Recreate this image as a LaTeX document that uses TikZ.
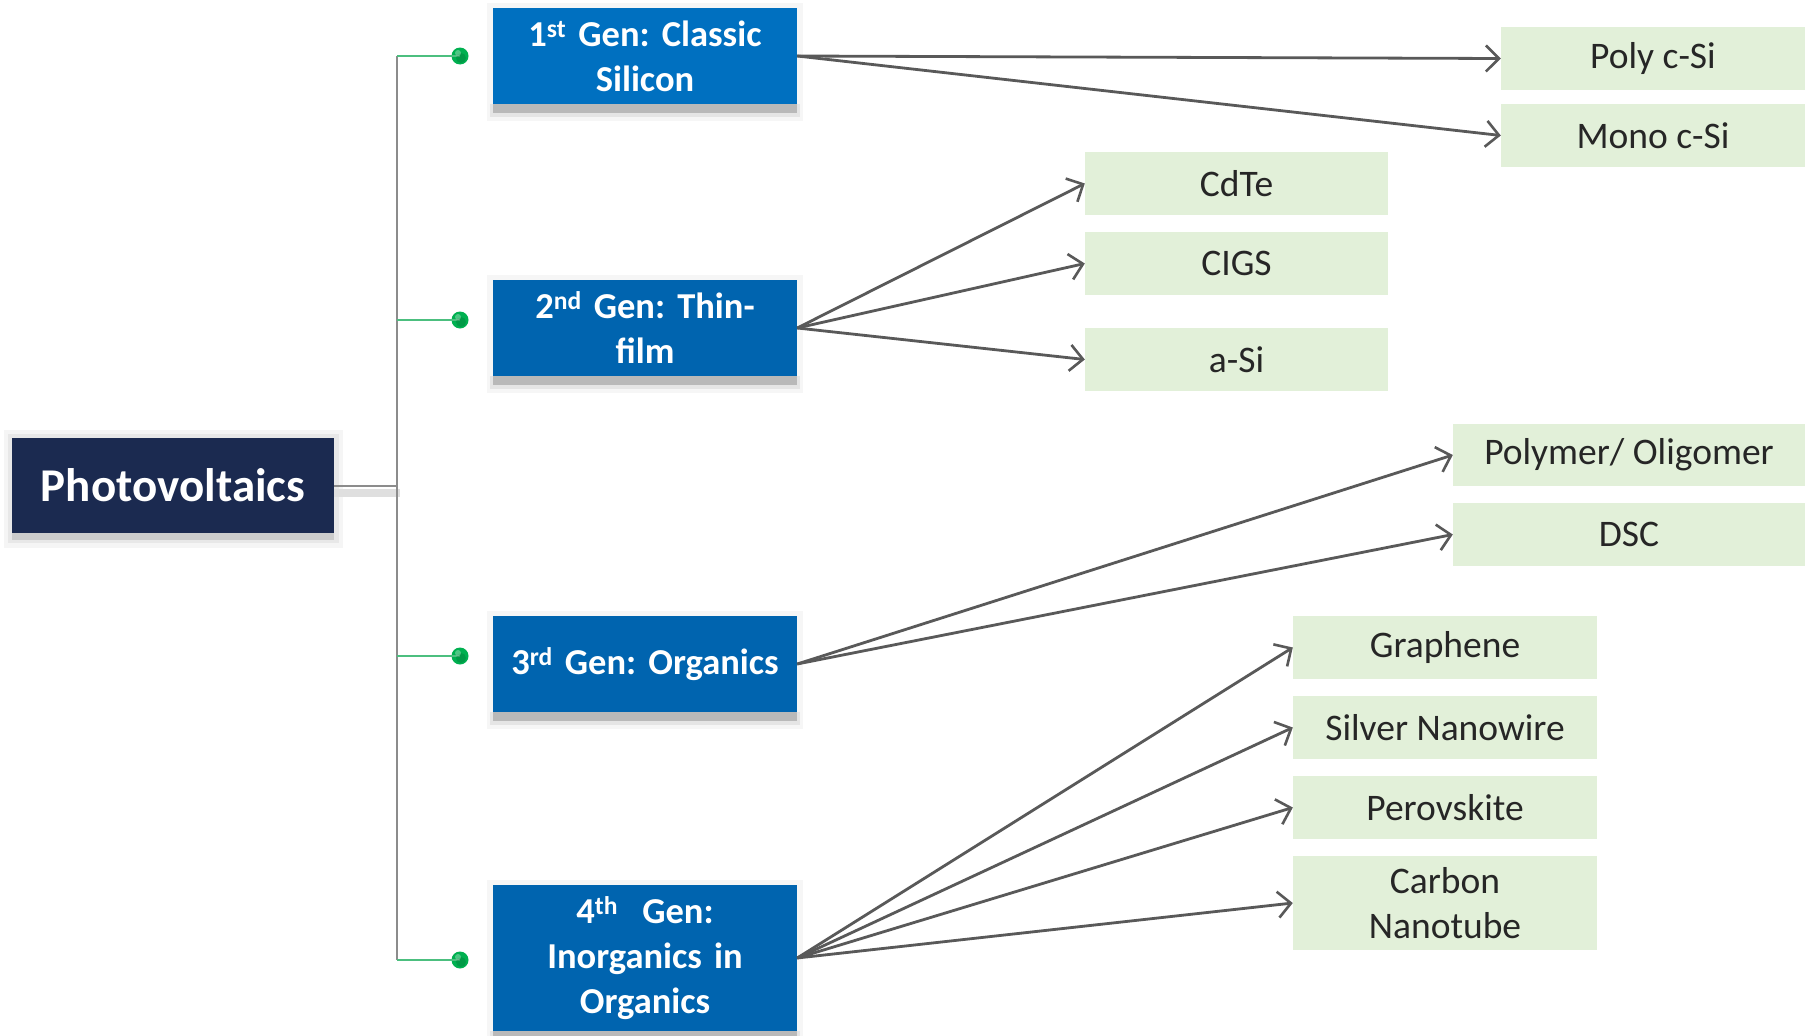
\documentclass[tikz,border=0pt]{standalone}
\usepackage{fontspec}
\setmainfont{Carlito}
\newfontfamily\genfont[WordSpace=0.8]{Carlito}
\frenchspacing
\usetikzlibrary{arrows.meta}
\definecolor{pvblue}{HTML}{1B2A50}
\definecolor{genblueA}{HTML}{0070C0}
\definecolor{genblue}{HTML}{0064AF}
\definecolor{leafgreen}{HTML}{E2F0D9}
\definecolor{leaftext}{HTML}{262626}
\definecolor{arrowgray}{HTML}{595959}
\definecolor{trunkgray}{HTML}{8C8C8C}
\definecolor{branchgreen}{HTML}{4CBF7F}
\definecolor{dotgreen}{HTML}{00B050}
\tikzset{
  genbox/.style={fill=genblue, text=white, font=\genfont\fontsize{36.5}{45}\selectfont\bfseries,
    minimum width=304pt, inner sep=0pt, align=center, text width=300pt},
  leafbox/.style={fill=leafgreen, text=leaftext, font=\fontsize{37.5}{45}\selectfont,
    inner sep=0pt, align=center},
  conn/.style={draw=arrowgray, line width=2.8pt, -{Straight Barb[length=13pt,width=26pt,line width=2.6pt]}},
  dotnode/.style={circle, fill=dotgreen, minimum size=17pt, inner sep=0pt},
  branch/.style={draw=branchgreen, line width=1.6pt},
  trunk/.style={draw=trunkgray, line width=1.8pt},
}
\begin{document}
\begin{tikzpicture}[x=1pt,y=-1pt]
\useasboundingbox (0,0) rectangle (1810,1036);
\fill[white] (0,0) rectangle (1810,1036);

% shadows of gen boxes
\foreach \t/\b in {8/104,280/376,616/712,885/1031}{
  \fill[gray!7] (487,\t-5) rectangle (803,\b+17);
  \fill[gray!20] (490,\b) rectangle (800,\b+13);
  \fill[gray!55] (493,\b) rectangle (797,\b+9);
}
% shadow of Photovoltaics
\fill[gray!8] (4,430) rectangle (343,548);
\fill[gray!18] (8,434) rectangle (339,543);
\fill[gray!40] (12,533) rectangle (334,540);
% light band under main connector
\fill[gray!25] (334,489) rectangle (400,497);

% main node
\node[fill=pvblue, text=white, font=\fontsize{47}{56}\selectfont\bfseries,
  minimum width=322pt, minimum height=95pt, inner sep=0pt] (pv) at (173,485.5) {Photovoltaics};

% generation nodes
\node[genbox, fill=genblueA, minimum height=96pt] (g1) at (645,56) {1\textsuperscript{st} Gen: Classic\\Silicon};
\node[genbox, minimum height=96pt] (g2) at (645,328) {2\textsuperscript{nd} Gen: Thin-\\film};
\node[genbox, minimum height=96pt] (g3) at (645,664) {3\textsuperscript{rd} Gen: Organics};
\node[genbox, minimum height=146pt] (g4) at (645,958) {4\textsuperscript{th}\ \ Gen:\\Inorganics in\\Organics};

% leaves
\node[leafbox, minimum width=304pt, minimum height=63pt] (poly) at (1653,58.5) {Poly c-Si};
\node[leafbox, minimum width=304pt, minimum height=63pt] (mono) at (1653,135.5) {Mono c-Si};
\node[leafbox, minimum width=303pt, minimum height=63pt] (cdte) at (1236.5,183.5) {CdTe};
\node[leafbox, minimum width=303pt, minimum height=63pt] (cigs) at (1236.5,263.5) {CIGS};
\node[leafbox, minimum width=303pt, minimum height=63pt] (asi) at (1236.5,359.5) {a-Si};
\node[leafbox, minimum width=352pt, minimum height=62pt] (polymer) at (1629,455) {Polymer/ Oligomer};
\node[leafbox, minimum width=352pt, minimum height=63pt] (dsc) at (1629,534.5) {DSC};
\node[leafbox, minimum width=304pt, minimum height=63pt] (graph) at (1445,647.5) {Graphene};
\node[leafbox, minimum width=304pt, minimum height=63pt] (silver) at (1445,727.5) {Silver Nanowire};
\node[leafbox, minimum width=304pt, minimum height=63pt] (perov) at (1445,807.5) {Perovskite};
\node[leafbox, minimum width=304pt, minimum height=94pt, text width=300pt] (cnt) at (1445,903) {Carbon\\Nanotube};

% trunk and branches
\coordinate (tm) at (397,486);
\coordinate (t1) at (397,56);
\coordinate (t2) at (397,320);
\coordinate (t3) at (397,656);
\coordinate (t4) at (397,960);
\draw[trunk] (pv.east |- tm) -- (tm);
\draw[trunk] (t1) -- (t4);
\node[dotnode] (d1) at (460,56) {};
\node[dotnode] (d2) at (460,320) {};
\node[dotnode] (d3) at (460,656) {};
\node[dotnode] (d4) at (460,960) {};
\foreach \i in {1,2,3,4}{
  \draw[branch] (t\i) -- (d\i.center);
  \fill[dotgreen!70!black, opacity=0.4] ([shift={(1pt,-2pt)}]d\i.center) circle (5pt);
  \fill[white, opacity=0.3] ([shift={(-2pt,3pt)}]d\i.center) circle (3pt);
}

% arrows
\draw[conn] (g1.east) -- (poly.west);
\draw[conn] (g1.east) -- (mono.west);
\draw[conn] (g2.east) -- (cdte.west);
\draw[conn] (g2.east) -- (cigs.west);
\draw[conn] (g2.east) -- (asi.west);
\draw[conn] (g3.east) -- (polymer.west);
\draw[conn] (g3.east) -- (dsc.west);
\draw[conn] (g4.east) -- (graph.west);
\draw[conn] (g4.east) -- (silver.west);
\draw[conn] (g4.east) -- (perov.west);
\draw[conn] (g4.east) -- (cnt.west);
\end{tikzpicture}
\end{document}
